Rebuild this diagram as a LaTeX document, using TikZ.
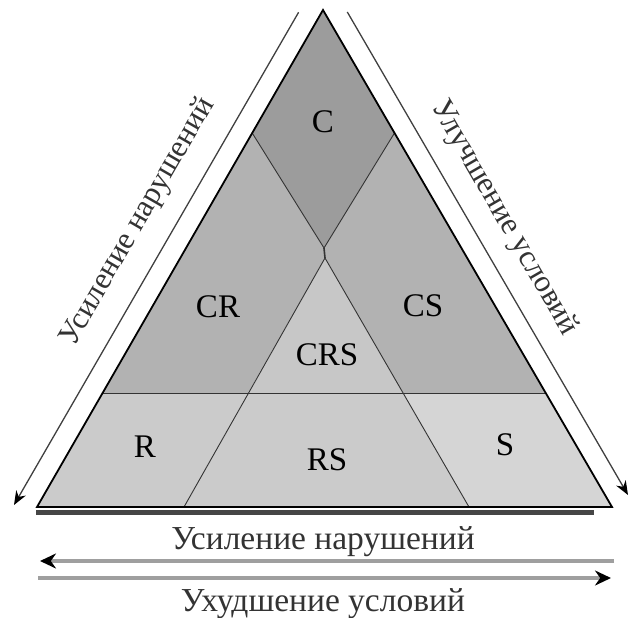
\documentclass[tikz,border=0pt]{standalone}
\usepackage{fontspec}
\setmainfont{Liberation Serif}
\usetikzlibrary{arrows.meta}
\definecolor{cC}{gray}{0.61}
\definecolor{cCR}{gray}{0.70}
\definecolor{cCRS}{gray}{0.78}
\definecolor{cR}{gray}{0.795}
\definecolor{cS}{gray}{0.835}
\begin{document}
\begin{tikzpicture}[x=1pt,y=-1pt,
  inner/.style={draw=black!80, line width=0.9pt},
  outline/.style={draw=black, line width=1.8pt, line join=miter},
  lab/.style={font=\fontsize{33}{36}\selectfont, inner sep=0pt},
  sidelab/.style={font=\fontsize{31}{34}\selectfont, inner sep=0pt, text=black!80},
  botlab/.style={font=\fontsize{33.5}{36}\selectfont, inner sep=0pt, text=black!80, anchor=base},
  sidearrow/.style={draw=black!75, line width=1.3pt, -{Stealth[length=14pt,width=11pt,color=black]}},
  botarrow/.style={draw=gray!75, line width=4.5pt, -{Stealth[length=16pt,width=15pt,color=black]}}]
\useasboundingbox (0,0) rectangle (629,618);
% key points
\coordinate (A) at (323,10);
\coordinate (BL) at (37,507);
\coordinate (BR) at (612,507);
\coordinate (DL) at (252.2,133);
\coordinate (DR) at (394.5,133);
\coordinate (DB) at (324,248);
\coordinate (P) at (325,258);
\coordinate (HL) at (102.6,393);
\coordinate (H1) at (248,393);
\coordinate (H2) at (403,393);
\coordinate (HR) at (545.7,393);
\coordinate (Q1) at (184,507);
\coordinate (Q2) at (469,507);
% regions
\fill[cC] (A)--(DR)--(DB)--(DL)--cycle;
\fill[cCR] (DL)--(DB)--(P)--(H1)--(HL)--cycle;
\fill[cCR] (DR)--(DB)--(P)--(H2)--(HR)--cycle;
\fill[cCRS] (P)--(H1)--(H2)--cycle;
\fill[cR] (HL)--(H1)--(Q1)--(BL)--cycle;
\fill[cR] (H1)--(H2)--(Q2)--(Q1)--cycle;
\fill[cS] (H2)--(HR)--(BR)--(Q2)--cycle;
% inner lines
\draw[inner] (DL)--(DB)--(DR);
\draw[inner, line width=1.6pt] (DB)--(P);
\draw[inner] (Q1)--(P)--(Q2);
\draw[inner] (HL)--(HR);
% outline
\draw[outline] (A)--(BR)--(BL)--cycle;
% base bar
\draw[draw=gray!55!black, line width=5pt] (36,512)--(594,512);
% labels
\node[lab] (lC) at (323,122) {C};
\node[lab] (lCR) at (218,307) {CR};
\node[lab] (lCS) at (423,306) {CS};
\node[lab] (lCRS) at (327,355) {CRS};
\node[lab] (lR) at (145,447) {R};
\node[lab] (lRS) at (327,460) {RS};
\node[lab] (lS) at (505,445) {S};
% side arrows
\coordinate (ls) at (298.6,12.3);
\coordinate (le) at (14,505);
\coordinate (rs) at (347.3,12);
\coordinate (re) at (628,495);
\draw[sidearrow] (ls)--(le);
\draw[sidearrow] (rs)--(re);
\node[sidelab, rotate=60] (tl) at (138,222) {Усиление нарушений};
\node[sidelab, rotate=-60] (tr) at (504,218) {Улучшение условий};
% bottom arrows
\coordinate (b1s) at (614,561);
\coordinate (b1e) at (40,561);
\coordinate (b2s) at (38,578);
\coordinate (b2e) at (611,578);
\node[botlab] (tb1) at (323,549) {Усиление нарушений};
\draw[botarrow] (b1s)--(b1e);
\draw[botarrow] (b2s)--(b2e);
\node[botlab] (tb2) at (323,611) {Ухудшение условий};
\end{tikzpicture}
\end{document}
